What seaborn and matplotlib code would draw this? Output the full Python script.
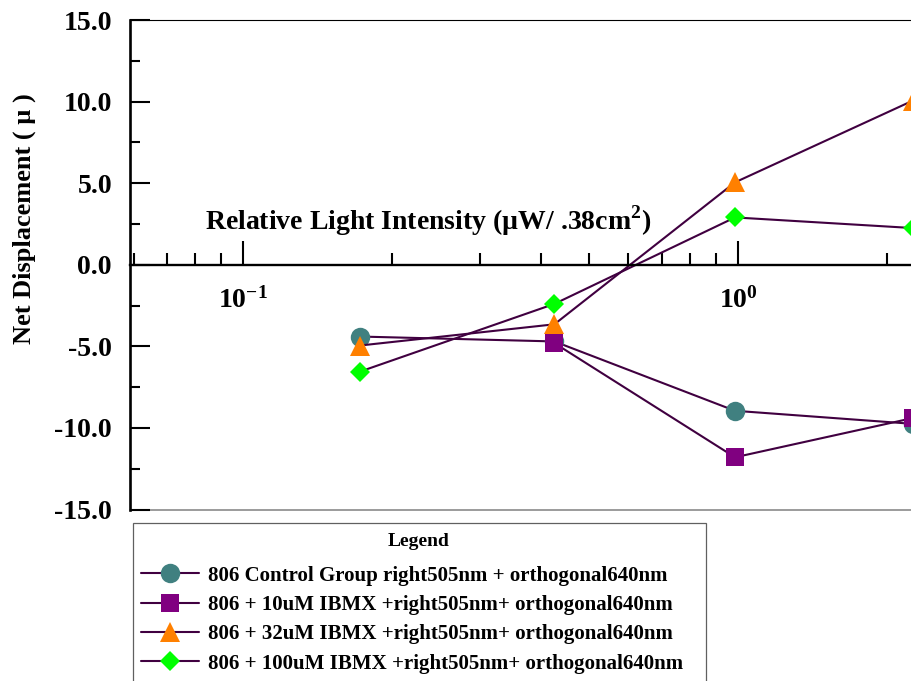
import math

import matplotlib

matplotlib.use("Agg")

import matplotlib.pyplot as plt
import pandas as pd
import seaborn as sns
from matplotlib.patches import Rectangle
from matplotlib.ticker import FixedLocator, FuncFormatter, LogLocator, MultipleLocator, NullFormatter


# data (no 10uM marker shows at the first intensity)
intensity = [0.172, 0.425, 0.985, 2.25]
control = [-4.4, -4.7, -8.95, -9.75]
ibmx_10 = [float("nan"), -4.8, -11.8, -9.4]
ibmx_32 = [-4.95, -3.65, 5.05, 10.05]
ibmx_100 = [-6.55, -2.4, 2.9, 2.25]

series_labels = [
    "806 Control Group right505nm + orthogonal640nm",
    "806 + 10uM IBMX +right505nm+ orthogonal640nm",
    "806 + 32uM IBMX +right505nm+ orthogonal640nm",
    "806 + 100uM IBMX +right505nm+ orthogonal640nm",
]
series_values = [control, ibmx_10, ibmx_32, ibmx_100]
marker_shapes = ["o", "s", "^", "D"]
marker_colors = ["#408080", "#800080", "#FF8000", "#00FF00"]
marker_sizes = [14, 13.5, 14, 10.5]
LINE_COLOR = "#400040"

sns.set_theme(style="white")
plt.rcParams["font.family"] = ["Liberation Serif", "DejaVu Serif"]
plt.rcParams["font.weight"] = "bold"
plt.rcParams["text.color"] = "black"
plt.rcParams["axes.labelcolor"] = "black"
plt.rcParams["xtick.color"] = "black"
plt.rcParams["ytick.color"] = "black"
plt.rcParams["mathtext.fontset"] = "custom"
plt.rcParams["mathtext.rm"] = "Liberation Serif:bold"
plt.rcParams["mathtext.bf"] = "Liberation Serif:bold"

df = pd.DataFrame(
    {
        "intensity": intensity * len(series_labels),
        "displacement": [v for vals in series_values for v in vals],
        "series": [lab for lab in series_labels for _ in intensity],
    }
)

fig = plt.figure(figsize=(9.12, 6.81), dpi=100)
ax = fig.add_axes([130 / 912, 1 - 509.5 / 681, 870 / 912, 489.5 / 681])

handles = []
for lab, shape, col, ms in zip(series_labels, marker_shapes, marker_colors, marker_sizes):
    sub = df[df["series"] == lab].dropna()
    sns.lineplot(
        data=sub, x="intensity", y="displacement", ax=ax, color=LINE_COLOR, linewidth=1.5,
        marker=shape, markersize=ms, markerfacecolor=col, markeredgewidth=0, legend=False,
        clip_on=False,
    )
    handles.append(ax.get_lines()[-1])

ax.set_xscale("log")
ax.set_xlim(0.059, 3.38)
ax.set_ylim(-15, 15)

# spines: y axis on the left, x axis crossing at zero
ax.spines["bottom"].set_position(("data", 0))
ax.spines["bottom"].set_linewidth(1.7)
ax.spines["left"].set_linewidth(1.9)
ax.spines["top"].set_linewidth(0.8)
ax.spines["right"].set_visible(False)
for side in ["bottom", "left", "top"]:
    ax.spines[side].set_color("black")
ax.axhline(-15, color="#808080", linewidth=1.1, clip_on=False, zorder=0.5)

ax.xaxis.set_major_locator(FixedLocator([0.1, 1.0]))
ax.xaxis.set_major_formatter(FuncFormatter(lambda v, _: r"$\mathbf{10^{%d}}$" % round(math.log10(v))))
ax.xaxis.set_minor_locator(LogLocator(base=10, subs=range(2, 10)))
ax.xaxis.set_minor_formatter(NullFormatter())
ax.tick_params(axis="x", which="both", bottom=True, top=False, direction="in", width=1.5)
ax.tick_params(axis="x", which="major", length=17, pad=16, labelsize=20)
ax.tick_params(axis="x", which="minor", length=8.6)

ax.yaxis.set_major_locator(MultipleLocator(5))
ax.yaxis.set_minor_locator(MultipleLocator(2.5))
ax.yaxis.set_major_formatter(FuncFormatter(lambda v, _: f"{v:.1f}"))
ax.tick_params(axis="y", which="both", left=True, right=False, direction="in", width=1.5)
ax.tick_params(axis="y", which="major", length=14.4, pad=13, labelsize=20)
ax.tick_params(axis="y", which="minor", length=7.2)
for lbl in ax.get_yticklabels():
    lbl.set_fontweight("bold")

ax.set_xlabel("Relative Light Intensity (\u00b5W/ .38cm$^{\\mathbf{2}}$)", fontsize=20, fontweight="bold")
ax.xaxis.set_label_coords((428 - 130) / 870, (509.5 - 221) / 489.5)
ax.xaxis.label.set_va("center")
ax.set_ylabel("Net Displacement ( \u00b5 )", fontsize=19, fontweight="bold")
ax.yaxis.set_label_coords((24 - 130) / 870, (509.5 - 219) / 489.5)
ax.yaxis.label.set_va("center")

# legend box: frame and title drawn on the figure, entries as a frameless legend
fig.patches.append(
    Rectangle((133 / 912, -0.05), (706 - 133) / 912, 0.05 + (681 - 522.5) / 681,
              transform=fig.transFigure, fill=False, edgecolor="#606060", linewidth=0.9)
)
fig.text(419 / 912, 1 - 542 / 681, "Legend", ha="center", va="center", fontsize=14, fontweight="bold")
fig.legend(
    handles, series_labels, loc="upper left", bbox_to_anchor=(141 / 912, 1 - 565.5 / 681),
    borderaxespad=0, borderpad=0, handlelength=2.8, handletextpad=0.43, labelspacing=0.45,
    frameon=False, prop={"weight": "bold", "size": 15},
)

fig.savefig("out.png", dpi=100)
